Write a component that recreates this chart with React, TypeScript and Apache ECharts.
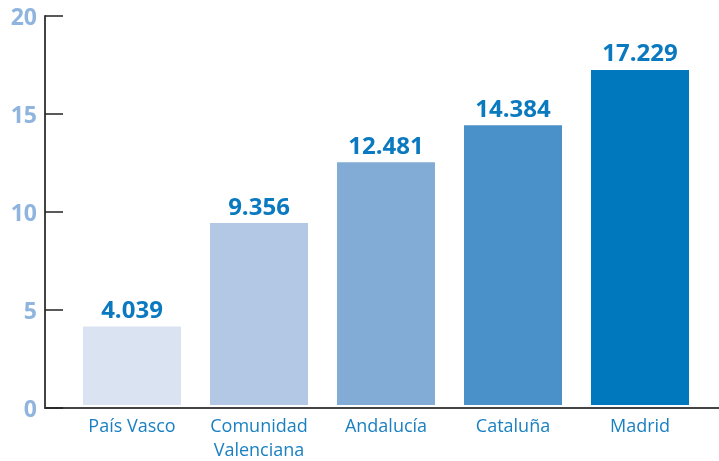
import React, { useEffect, useRef } from "react";
import * as echarts from "echarts";

const categories = ["País Vasco", "Comunidad\nValenciana", "Andalucía", "Cataluña", "Madrid"];
const values = [4.039, 9.356, 12.481, 14.384, 17.229];
const valueLabels = ["4.039", "9.356", "12.481", "14.384", "17.229"];
const barColors = ["#d9e3f1", "#b2c8e5", "#82abd6", "#4a90c9", "#0078bd"];
const yTicks = [0, 5, 10, 15, 20];

export default function App() {
  const ref = useRef<HTMLDivElement>(null);
  useEffect(() => {
    if (!ref.current) return;
    const chart = echarts.init(ref.current, null, { renderer: "svg" });
    const font = "'Open Sans', 'Noto Sans', sans-serif";
    chart.setOption({
      animation: false,
      grid: [
        { left: 45, right: 0, top: 16, bottom: 53 },
        { left: 68.5, width: 635, top: 16, bottom: 53 },
      ],
      xAxis: [
        {
          gridIndex: 0,
          type: "value",
          min: 0,
          max: 1,
          axisLine: { show: true, lineStyle: { color: "#444", width: 2 } },
          axisTick: { show: false },
          axisLabel: { show: false },
          splitLine: { show: false },
        },
        {
          gridIndex: 1,
          type: "category",
          data: categories,
          axisLine: { show: false },
          axisTick: { show: false },
          axisLabel: {
            color: "#1a80c3",
            fontSize: 18,
            fontFamily: font,
            lineHeight: 24,
            margin: 8,
            interval: 0,
          },
        },
      ],
      yAxis: [
        {
          gridIndex: 0,
          type: "value",
          min: yTicks[0],
          max: yTicks[yTicks.length - 1],
          interval: 5,
          axisLine: { show: true, lineStyle: { color: "#444", width: 2 } },
          axisTick: { show: true, inside: true, length: 18, lineStyle: { color: "#222", width: 1.5 } },
          axisLabel: { color: "#8fb4de", fontSize: 23, fontWeight: "bold", fontFamily: font, margin: 8 },
          splitLine: { show: false },
        },
        {
          gridIndex: 1,
          type: "value",
          min: yTicks[0],
          max: yTicks[yTicks.length - 1],
          interval: 5,
          show: false,
        },
      ],
      series: [
        {
          type: "bar",
          xAxisIndex: 1,
          yAxisIndex: 1,
          barWidth: 98,
          data: values.map((v, i) => ({ value: v, itemStyle: { color: barColors[i] } })),
          label: {
            show: true,
            position: "top",
            distance: 6,
            color: "#0a79c0",
            fontSize: 24,
            fontWeight: "bold",
            fontFamily: font,
            formatter: (p: any) => valueLabels[p.dataIndex],
          },
        },
      ],
    });
    return () => chart.dispose();
  }, []);
  return <div ref={ref} style={{ width: 719, height: 461, position: "fixed", left: 0, top: 0 }} />;
}
